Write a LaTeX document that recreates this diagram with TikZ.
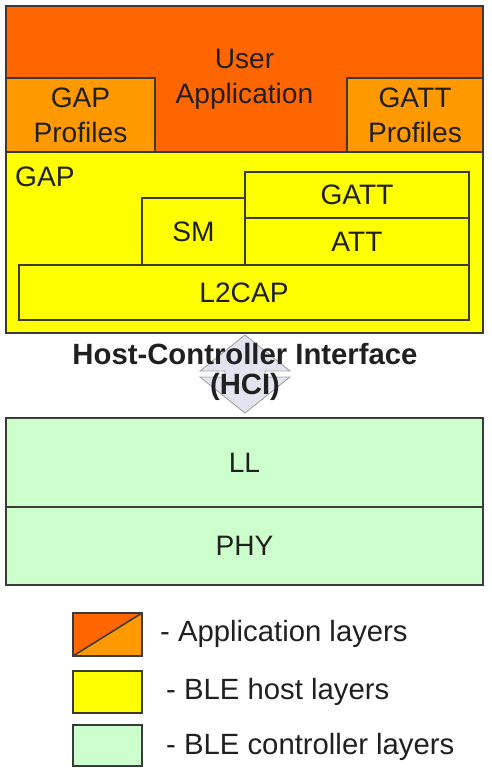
\documentclass[tikz,border=0pt]{standalone}
\usepackage{fontspec}
\setmainfont{Liberation Sans}
\usetikzlibrary{positioning}

\definecolor{appdark}{HTML}{FF6600}
\definecolor{applight}{HTML}{FF9900}
\definecolor{hostyellow}{HTML}{FFFF00}
\definecolor{ctrlgreen}{HTML}{CCFFCC}
\definecolor{edgegrey}{HTML}{3A3A3A}
\definecolor{hcifill}{HTML}{E4E4F0}
\definecolor{txtgrey}{HTML}{202020}

\newcommand{\pxu}{0.03cm}

\begin{document}
\begin{tikzpicture}[x=0.03cm, y=-0.03cm,
    layer/.style={draw=edgegrey, line width=1.1pt, inner sep=0pt, outer sep=0pt,
        anchor=north west, align=center, text=txtgrey,
        font=\fontsize{24}{30}\selectfont},
    lbl/.style={inner sep=0pt, text=txtgrey, font=\fontsize{24}{30}\selectfont},
    legtxt/.style={inner sep=0pt, anchor=west, text=txtgrey, font=\fontsize{25}{30}\selectfont},
    hcishape/.style={draw=gray!70, fill=hcifill, line width=0.8pt}]
    \useasboundingbox (0,0) rectangle (491,772);

    % application layers
    \node[layer, fill=appdark, minimum width=477*\pxu, minimum height=146*\pxu] (userapp) at (6,6) {User\\Application};
    \node[layer, fill=applight, minimum width=149*\pxu, minimum height=74*\pxu] (gapprof) at (6,78) {GAP\\Profiles};
    \node[layer, fill=applight, minimum width=136*\pxu, minimum height=74*\pxu] (gattprof) at (347,78) {GATT\\Profiles};

    % host layers
    \node[layer, fill=hostyellow, minimum width=477*\pxu, minimum height=181*\pxu] (host) at (6,152) {};
    \node[lbl, anchor=west] (gap) at (15,177) {GAP};
    \node[layer, fill=hostyellow, minimum width=224*\pxu, minimum height=46*\pxu] (gatt) at (245,172) {GATT};
    \node[layer, fill=hostyellow, minimum width=103*\pxu, minimum height=67*\pxu] (sm) at (142,198) {SM};
    \node[layer, fill=hostyellow, minimum width=224*\pxu, minimum height=47*\pxu] (att) at (245,218) {ATT};
    \node[layer, fill=hostyellow, minimum width=450*\pxu, minimum height=55*\pxu] (l2cap) at (19,265) {L2CAP};

    % HCI
    \coordinate (hci) at (245,374);
    \draw[hcishape, shift={(hci)}] (0,-39) -- (45,-3) -- (20,-3) -- (20,3) -- (45,3) -- (0,39)
        -- (-45,3) -- (-20,3) -- (-20,-3) -- (-45,-3) -- cycle;
    \node[lbl, align=center, font=\fontsize{25}{25}\selectfont\bfseries] (hcitxt) at (245,372) {Host-Controller Interface\\(HCI)};

    % controller layers
    \node[layer, fill=ctrlgreen, minimum width=477*\pxu, minimum height=89*\pxu] (ll) at (6,418) {LL};
    \node[layer, fill=ctrlgreen, minimum width=477*\pxu, minimum height=78*\pxu] (phy) at (6,507) {PHY};

    % legend
    \node[layer, fill=applight, minimum width=69*\pxu, minimum height=43*\pxu] (keyapp) at (73,613) {};
    \fill[appdark] (keyapp.south west) -- (keyapp.north west) -- (keyapp.north east) -- cycle;
    \draw[edgegrey, line width=1.1pt] (keyapp.south west) rectangle (keyapp.north east);
    \draw[edgegrey, line width=1.3pt] (keyapp.south west) -- (keyapp.north east);
    \node[layer, fill=hostyellow, minimum width=69*\pxu, minimum height=42*\pxu] (keyhost) at (73,671) {};
    \node[layer, fill=ctrlgreen, minimum width=69*\pxu, minimum height=41*\pxu] (keyctrl) at (73,725) {};
    \node[legtxt] (appl) at (160,634) {- Application layers};
    \node[legtxt] (hostl) at (166,692) {- BLE host layers};
    \node[legtxt] (ctrll) at (166,747) {- BLE controller layers};
\end{tikzpicture}
\end{document}
